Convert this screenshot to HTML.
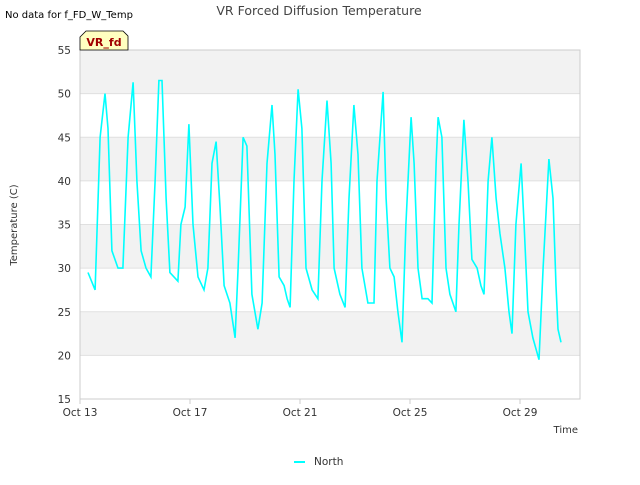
<!DOCTYPE html>
<html><head><meta charset="utf-8"><style>
body{margin:0;background:#fff;}
svg text{font-family:"DejaVu Sans","Liberation Sans",sans-serif;}
</style></head><body>
<svg id="chart" width="640" height="480" xmlns="http://www.w3.org/2000/svg">
<text x="5" y="18" font-size="10" fill="#000">No data for f_FD_W_Temp</text>
<text x="319" y="15" font-size="12.5" fill="#444" text-anchor="middle">VR Forced Diffusion Temperature</text>
<g id="bands"></g>
<g id="grid"></g>
<rect x="80" y="50" width="500" height="349" fill="none" stroke="#ccc"/>
<g id="yticks"></g>
<g id="xticks"></g>
<path id="line" fill="none" stroke="#00ffff" stroke-width="1.6"/>
<g>
<path d="M80,50 L80,37 L86,31 L123,31 L128,36 L128,50 Z" fill="#ffffc0" stroke="#000" stroke-width="0.8"/>
<text x="104" y="46" font-size="11" font-weight="bold" fill="#a00000" text-anchor="middle">VR_fd</text>
</g>
<text transform="translate(17,225) rotate(-90)" font-size="10" fill="#333" text-anchor="middle">Temperature (C)</text>
<text x="578" y="433" font-size="10" fill="#333" text-anchor="end">Time</text>
<g>
<line x1="294" y1="462" x2="305" y2="462" stroke="#00ffff" stroke-width="2"/>
<text x="314" y="465" font-size="10.5" fill="#333">North</text>
</g>
</svg>
<script>
const days=[13.29,13.55,13.73,13.91,14.02,14.16,14.38,14.56,14.75,14.93,15.07,15.22,15.4,15.58,15.73,15.87,15.98,16.13,16.27,16.56,16.67,16.82,16.96,17.11,17.29,17.51,17.65,17.8,17.95,18.09,18.24,18.45,18.64,18.75,18.93,19.07,19.25,19.47,19.62,19.8,19.98,20.09,20.24,20.42,20.53,20.64,20.78,20.93,21.07,21.22,21.44,21.65,21.8,21.98,22.13,22.24,22.45,22.64,22.78,22.96,23.11,23.25,23.47,23.69,23.8,24.02,24.13,24.27,24.42,24.56,24.71,24.85,25.04,25.15,25.29,25.44,25.65,25.8,25.95,26.02,26.16,26.31,26.45,26.67,26.78,26.96,27.11,27.25,27.44,27.58,27.69,27.84,27.98,28.13,28.27,28.45,28.6,28.71,28.85,29.04,29.15,29.29,29.47,29.69,29.84,30.05,30.2,30.31,30.38,30.49];
const temps=[29.5,27.5,45,50,46,32,30,30,45,51.3,40,32,30,29,40,51.5,51.5,38,29.5,28.5,35,37,46.5,35,29,27.5,30,42,44.5,37,28,26,22,30,45,44,27,23,26,42,48.7,43,29,28,26.5,25.5,40,50.5,46,30,27.5,26.5,40,49.2,42,30,27,25.5,38,48.7,43,30,26,26,40,50.2,38,30,29,25,21.5,35,47.3,42,30,26.5,26.5,26,42,47.3,45,30,27,25,35,47,40,31,30,28,27,40,45,38,34,30,25,22.5,35,42,35,25,22,19.5,30,42.5,38,28,23,21.5];
const yTicks=[15,20,25,30,35,40,45,50,55];
const xTickDays=[13,17,21,25,29];
const xTickLabels=["Oct 13","Oct 17","Oct 21","Oct 25","Oct 29"];
const X=d=>80+(d-13)*27.5, Y=v=>399-(v-15)*8.725;
const NS="http://www.w3.org/2000/svg";
function mk(p,tag,at){const e=document.createElementNS(NS,tag);for(const k in at)e.setAttribute(k,at[k]);document.getElementById(p).appendChild(e);return e;}
for(let i=0;i<yTicks.length-1;i++){if(i%2===0)continue;
 const r=mk('bands','rect',{x:80,y:Y(yTicks[i+1]),width:500,height:Y(yTicks[i])-Y(yTicks[i+1]),fill:'#f2f2f2'});
 
 }
yTicks.forEach(v=>{const l=mk('grid','line',{x1:80,x2:580,y1:Y(v),y2:Y(v),stroke:'#e0e0e0'});
 
 
 const t=mk('yticks','text',{x:71,y:Y(v)+4,'font-size':10.5,fill:'#333','text-anchor':'end'});t.textContent=v;
 
 });
xTickDays.forEach((d,i)=>{const t=mk('xticks','text',{x:X(d),y:416,'font-size':10.5,fill:'#333','text-anchor':'middle'});t.textContent=xTickLabels[i];
 
 
 mk('xticks','line',{x1:X(d),x2:X(d),y1:399,y2:404,stroke:'#ccc'});});
document.getElementById('line').setAttribute('d',days.map((d,i)=>(i?'L':'M')+X(d).toFixed(1)+','+Y(temps[i]).toFixed(1)).join(''));
</script>
</body></html>
